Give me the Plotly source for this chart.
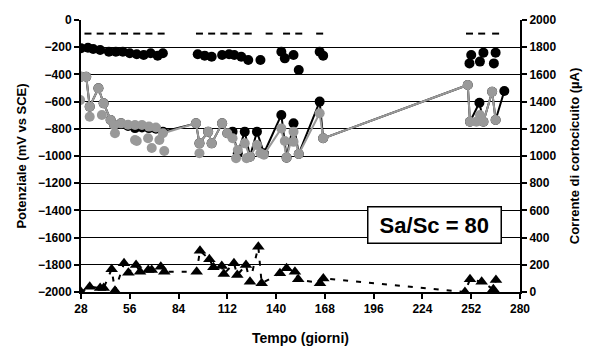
import plotly.graph_objects as go

# --- Potenziale "alto" (cerchi neri, solo marcatori) ---
alto_giorni = [28, 32, 35, 39, 44, 48, 52, 56, 60, 64, 68, 72, 75,
               95, 99, 103, 109, 113, 116, 120, 124, 131, 143, 145, 150, 153, 165, 167,
               251, 252, 257, 259, 265, 266]
alto_mv = [-208, -204, -213, -221, -233, -233, -233, -245, -252, -257, -245, -262, -245,
           -252, -262, -270, -257, -252, -257, -270, -294, -294, -233, -282, -257, -368, -233, -262,
           -319, -257, -306, -240, -319, -240]

# --- Soglia (marcatori a trattino) ---
soglia_giorni = [32, 39, 46, 53, 60, 67, 74, 96, 103, 110, 117, 124, 136, 146, 153, 165, 251, 258, 266]
soglia_mv = [-100] * len(soglia_giorni)

# --- Potenziale serie nera (linea + cerchi) ---
nero_giorni = [28, 31, 33, 38, 41, 45, 47, 51, 55, 59, 63, 67, 71, 75,
               94, 96, 101, 103, 109, 112, 115, 118, 122, 125, 129, 133, 143, 146, 150, 153, 165, 167,
               250, 251.3, 256.7, 259, 264, 266, 271]
nero_mv = [-417, -417, -637, -502, -613, -735, -772, -760, -780, -795, -790, -795, -800, -821,
           -760, -907, -821, -907, -760, -833, -821, -980, -821, -1005, -821, -980, -698, -1012, -760, -985, -600, -870,
           -478, -748, -608, -748, -527, -735, -522]

# --- Potenziale serie grigia (linea + cerchi) ---
grigio_giorni = [28, 31, 33, 38, 41, 45, 47, 51, 55, 59, 63, 67, 71, 75,
                 94, 96, 101, 103, 109, 112, 115, 118, 122, 125, 129, 133, 143, 146, 150, 153, 165, 167,
                 250, 251.3, 255, 259, 264, 266]
grigio_mv = [-417, -417, -637, -502, -613, -735, -772, -760, -770, -772, -772, -784, -790, -833,
             -760, -907, -821, -907, -760, -833, -870, -956, -907, -1005, -919, -990, -797, -1012, -821, -985, -686, -870,
             -478, -748, -748, -748, -527, -735]

# --- Potenziale grigio (solo marcatori) ---
sparsi_giorni = [27.5, 33, 40, 47.5, 59, 60, 66.5, 68.6, 73, 75.8, 96, 117, 123, 131, 145, 150, 257]
sparsi_mv = [-588, -711, -698, -833, -882, -890, -870, -941, -882, -963, -980, -1017, -1017, -980, -890, -896, -698]

# --- Corrente di cortocircuito (triangoli, asse destro) ---
corr_giorni = [28, 33, 39, 41, 45.6, 47.5, 52.7, 55.2, 59.6, 61.9, 66.6, 68.6, 73.8, 75.8,
               94.4, 96.3, 101.7, 104, 108.8, 110, 115.8, 117.7, 122.7, 125, 129.8, 131.7,
               142.2, 146, 150.8, 152.7, 165.2, 167.1,
               248.4, 251.3, 258, 264.7, 266.2]
corr_ua = [0, 39, 29, 29, 167, 10, 211, 142, 198, 149, 162, 162, 186, 149,
           149, 304, 240, 182, 191, 132, 211, 125, 198, 76, 333, 64,
           137, 174, 149, 93, 64, 100,
           0, 93, 76, 20, 88]

GRIGIO = "#999999"
FONT = "Liberation Sans, Arial, sans-serif"

fig = go.Figure()

fig.add_trace(go.Scatter(x=soglia_giorni, y=soglia_mv, mode="markers",
                         marker=dict(symbol="line-ew", size=5, line=dict(color="black", width=2)),
                         showlegend=False))
fig.add_trace(go.Scatter(x=alto_giorni, y=alto_mv, mode="markers",
                         marker=dict(symbol="circle", size=10, color="black"), showlegend=False))
fig.add_trace(go.Scatter(x=nero_giorni, y=nero_mv, mode="lines+markers",
                         line=dict(color="black", width=2),
                         marker=dict(symbol="circle", size=10, color="black"), showlegend=False))
fig.add_trace(go.Scatter(x=sparsi_giorni, y=sparsi_mv, mode="markers",
                         marker=dict(symbol="circle", size=10, color=GRIGIO), showlegend=False))
fig.add_trace(go.Scatter(x=grigio_giorni, y=grigio_mv, mode="lines+markers",
                         line=dict(color=GRIGIO, width=2),
                         marker=dict(symbol="circle", size=10, color=GRIGIO), showlegend=False))
fig.add_trace(go.Scatter(x=corr_giorni, y=corr_ua, mode="lines+markers", yaxis="y2",
                         line=dict(color="black", width=2, dash="5px,8px"),
                         marker=dict(symbol="triangle-up", size=11, color="black"),
                         showlegend=False))

fig.add_annotation(x=231, y=-1507, xref="x", yref="y",
                   text="<b>&nbsp;Sa/Sc = 80&nbsp;</b>", showarrow=False,
                   font=dict(family=FONT, size=22, color="black"),
                   bgcolor="white", bordercolor="black", borderwidth=1.5,
                   borderpad=5, xanchor="center", yanchor="middle")

tick_font = dict(family=FONT, size=12, color="black", weight="bold")
title_font = dict(family=FONT, size=13, color="black", weight="bold")

fig.update_layout(
    width=589, height=347,
    margin=dict(l=81, r=69, t=20, b=55),
    paper_bgcolor="white", plot_bgcolor="white",
    xaxis=dict(range=[28, 280], tickmode="linear", tick0=28, dtick=28, automargin=False,
               showgrid=False, zeroline=False, showline=True, linecolor="black", linewidth=2,
               ticks="outside", ticklen=5, tickwidth=1.5, tickcolor="black",
               tickfont=tick_font,
               title=dict(text="Tempo (giorni)", font=dict(family=FONT, size=14, color="black", weight="bold"),
                          standoff=18)),
    yaxis=dict(range=[-2000, 0], tickmode="linear", tick0=-2000, dtick=200, automargin=False,
               showgrid=True, gridcolor="black", gridwidth=1,
               zeroline=False, showline=True, linecolor="black", linewidth=2,
               ticks="outside", ticklen=5, tickwidth=1.5, tickcolor="black",
               tickfont=tick_font,
               title=dict(text="Potenziale (mV vs SCE)", font=title_font, standoff=8)),
    yaxis2=dict(range=[0, 2000], tickmode="linear", tick0=0, dtick=200, automargin=False,
                overlaying="y", side="right", showgrid=False, zeroline=False,
                showline=True, linecolor="black", linewidth=2,
                ticks="outside", ticklen=5, tickwidth=1.5, tickcolor="black",
                tickfont=tick_font,
                title=dict(text="Corrente di cortocicuito (µA)", font=title_font, standoff=14)),
)

fig.write_html("out.html")
